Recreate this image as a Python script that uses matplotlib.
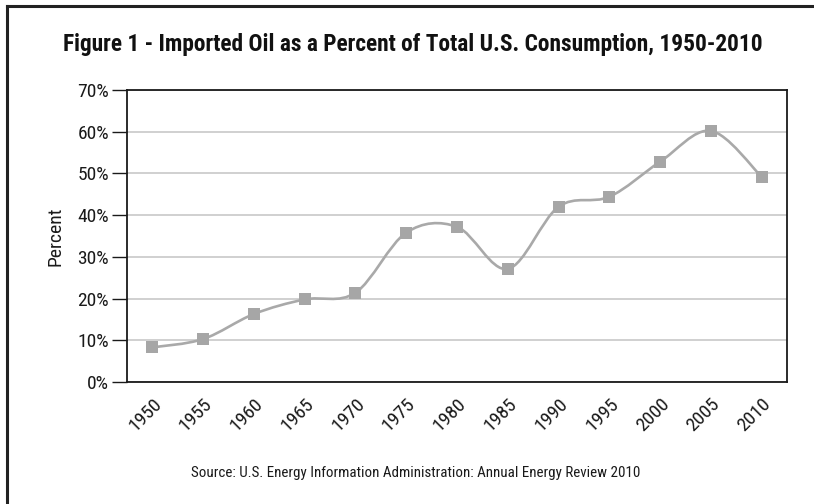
import matplotlib
matplotlib.use('Agg')
import matplotlib.pyplot as plt
from matplotlib.path import Path
from matplotlib.patches import PathPatch
from matplotlib.lines import Line2D
from matplotlib.ticker import FuncFormatter

# ---------------------------------------------------------------------------
# Data
# ---------------------------------------------------------------------------
years = ['1950', '1955', '1960', '1965', '1970', '1975', '1980',
         '1985', '1990', '1995', '2000', '2005', '2010']
import_pct = [8.3, 10.3, 16.3, 19.8, 21.4, 35.8, 37.2,
              27.1, 42.0, 44.4, 52.8, 60.2, 49.2]
y_ticks = [0, 10, 20, 30, 40, 50, 60, 70]

title = 'Figure 1 - Imported Oil as a Percent of Total U.S. Consumption, 1950-2010'
source = 'Source: U.S. Energy Information Administration: Annual Energy Review 2010'

FONT = ['Roboto Condensed', 'PT Sans Narrow', 'DejaVu Sans']
LINE_GREY = '#a9a9a9'
MARK_GREY = '#a6a6a6'
INK = '#1a1a1a'


def smooth_path(xs, ys):
    """Catmull-Rom style cubic Bezier through the points (Excel 'smoothed line')."""
    pts = list(zip(xs, ys))
    n = len(pts)
    verts = [pts[0]]
    codes = [Path.MOVETO]
    for i in range(n - 1):
        p0 = pts[i - 1] if i > 0 else pts[i]
        p1 = pts[i]
        p2 = pts[i + 1]
        p3 = pts[i + 2] if i + 2 < n else pts[i + 1]
        c1 = (p1[0] + (p2[0] - p0[0]) / 6, p1[1] + (p2[1] - p0[1]) / 6)
        c2 = (p2[0] - (p3[0] - p1[0]) / 6, p2[1] - (p3[1] - p1[1]) / 6)
        verts += [c1, c2, p2]
        codes += [Path.CURVE4] * 3
    return Path(verts, codes)


fig = plt.figure(figsize=(8.14, 5.04), dpi=100)
ax = fig.add_axes([127 / 814, 1 - 382 / 504, 660 / 814, 292 / 504])

x = list(range(len(years)))
ax.add_patch(PathPatch(smooth_path(x, import_pct), facecolor='none',
                       edgecolor=LINE_GREY, linewidth=1.9, zorder=3))
ax.plot(x, import_pct, linestyle='none', marker='s', markersize=8.5,
        color=MARK_GREY, markeredgewidth=0, zorder=4)

ax.set_xlim(-0.5, len(years) - 0.5)
ax.set_ylim(0, 70)
ax.set_yticks(y_ticks)
ax.yaxis.set_major_formatter(FuncFormatter(lambda v, _: f'{v:.0f}%'))
ax.set_xticks(x)
ax.set_xticklabels(years, rotation=45, ha='right', rotation_mode='anchor')
ax.tick_params(axis='x', length=0, pad=9)
ax.tick_params(axis='y', length=11, width=1.0, color=INK, pad=2)
for lab in ax.get_xticklabels() + ax.get_yticklabels():
    lab.set_family(FONT)
    lab.set_fontsize(14)
    lab.set_color(INK)

ax.grid(axis='y', color='#c8c8c8', linewidth=1.2)
ax.set_axisbelow(True)
for s in ax.spines.values():
    s.set_color(INK)
    s.set_linewidth(1.3)

ax.set_ylabel('Percent', family=FONT, fontsize=14, color=INK, labelpad=9)

fig.text(413 / 814, 1 - 44 / 504, title, family=FONT, fontsize=16.8,
         fontweight='bold', ha='center', va='center', color='#111111')
fig.text(416 / 814, 1 - 473 / 504, source, family=FONT, fontsize=10.8,
         ha='center', va='center', color=INK)

# frame: only top and left edges are visible in the crop
fig.add_artist(Line2D([7 / 814, 7 / 814], [0, 1 - 6 / 504],
                      color='#222222', linewidth=2.2))
fig.add_artist(Line2D([7 / 814, 1], [1 - 6 / 504, 1 - 6 / 504],
                      color='#222222', linewidth=2.2))

fig.savefig('out.png', dpi=100)
